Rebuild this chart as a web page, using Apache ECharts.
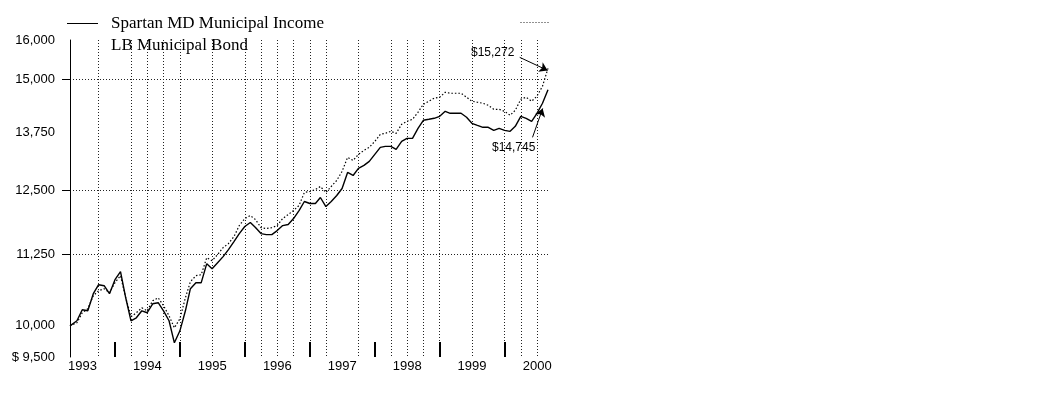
<!DOCTYPE html>
<html>
<head>
<meta charset="utf-8">
<script src="https://cdn.jsdelivr.net/npm/echarts@6/dist/echarts.min.js"></script>
<style>
  html, body { margin: 0; padding: 0; background: #fff; }
  #chart { width: 1063px; height: 394px; }
</style>
</head>
<body>
<div id="chart"></div>
<script>
// ---- Data ----
const seriesNames = ['Spartan MD Municipal Income', 'LB Municipal Bond'];
const startDate = '1993-04-22';
const endDate = '2000-08-31';

// Spartan MD Municipal Income: start value then month-ends May 1993 .. Aug 2000
const spartan1993 = [10000, 10083, 10267, 10250, 10542, 10699, 10682, 10542, 10788];
const spartan1994 = [10931, 10490, 10083, 10133, 10250, 10217, 10369, 10387, 10250, 10083, 9724, 9918];
const spartan1995 = [10250, 10629, 10735, 10735, 11076, 10985, 11094, 11205, 11335, 11485, 11638, 11773];
const spartan1996 = [11851, 11753, 11638, 11618, 11618, 11695, 11792, 11812, 11929, 12087, 12268, 12228];
const spartan1997 = [12228, 12349, 12167, 12268, 12390, 12534, 12869, 12805, 12954, 13018, 13104, 13256];
const spartan1998 = [13410, 13432, 13432, 13366, 13543, 13611, 13611, 13837, 14021, 14044, 14067, 14113];
const spartan1999 = [14230, 14183, 14183, 14183, 14090, 13951, 13905, 13860, 13860, 13791, 13837, 13791];
const spartan2000 = [13769, 13883, 14113, 14067, 13997, 14183, 14419, 14745];

// LB Municipal Bond
const lb1993 = [10000, 10050, 10217, 10284, 10507, 10594, 10629, 10559, 10735];
const lb1994 = [10859, 10490, 10150, 10217, 10301, 10250, 10421, 10472, 10335, 10166, 9967, 10116];
const lb1995 = [10472, 10752, 10859, 10877, 11186, 11131, 11242, 11372, 11447, 11580, 11792, 11929];
const lb1996 = [11988, 11909, 11753, 11734, 11753, 11792, 11929, 12008, 12087, 12188, 12452, 12472];
const lb1997 = [12513, 12575, 12452, 12575, 12700, 12890, 13191, 13126, 13256, 13344, 13410, 13543];
const lb1998 = [13701, 13723, 13769, 13723, 13929, 13997, 14044, 14207, 14395, 14467, 14539, 14563];
const lb1999 = [14683, 14659, 14659, 14659, 14563, 14467, 14443, 14419, 14372, 14277, 14277, 14230];
const lb2000 = [14137, 14254, 14515, 14563, 14467, 14587, 14829, 15272];

// Axis ticks / labels
const yLabelValues = [9500, 10000, 11250, 12500, 13750, 15000, 16000];
const yGridValues = [11250, 12500, 15000];
const yearLabelDates = ['1993-07-01', '1994-07-01', '1995-07-01', '1996-07-01', '1997-07-01', '1998-07-01', '1999-07-01', '2000-07-01'];
const yearEndDates = ['1993-12-31', '1994-12-31', '1995-12-31', '1996-12-31', '1997-12-31', '1998-12-31', '1999-12-31'];
const vGridDates = ['1993-09-30', '1994-03-31', '1994-06-30', '1994-09-30', '1994-12-31', '1995-06-30',
  '1995-12-31', '1996-03-31', '1996-06-30', '1996-09-30', '1996-12-31', '1997-03-31', '1997-09-30',
  '1998-03-31', '1998-06-30', '1998-09-30', '1998-12-31', '1999-06-30', '1999-12-31', '2000-03-31', '2000-06-30'];

// Annotations
const endLabels = ['$15,272', '$14,745'];

// ---- Build ----
function pad(n) { return (n < 10 ? '0' : '') + n; }
const ts = s => { const p = s.split('-'); return Date.UTC(+p[0], +p[1] - 1, +p[2]); };
const dates = [startDate];
for (let y = 1993, m = 5; y < 2000 || (y === 2000 && m <= 8); ) {
  const last = new Date(Date.UTC(y, m, 0)).getUTCDate();
  dates.push(y + '-' + pad(m) + '-' + pad(last));
  m++; if (m > 12) { m = 1; y++; }
}
const spartan = [].concat(spartan1993, spartan1994, spartan1995, spartan1996, spartan1997, spartan1998, spartan1999, spartan2000);
const lb = [].concat(lb1993, lb1994, lb1995, lb1996, lb1997, lb1998, lb1999, lb2000);
const toPairs = arr => arr.map((v, i) => [ts(dates[i]), v]);

const sans = 'Liberation Sans, Arial, sans-serif';
const serif = 'Liberation Serif, Times New Roman, serif';
const dotted = { color: '#222', width: 1, type: [1, 2] };

const chart = echarts.init(document.getElementById('chart'), null, { renderer: 'canvas' });
chart.setOption({
  animation: false,
  backgroundColor: '#fff',
  grid: { left: 70, right: 515, top: 40, bottom: 37, containLabel: false },
  legend: [
    {
      data: [{ name: seriesNames[0], icon: 'path://M0,0H30V1H0Z' }], left: 62, top: 10,
      itemWidth: 31, itemHeight: 1.3, itemGap: 0, selectedMode: false,
      textStyle: { fontFamily: serif, fontSize: 17, color: '#000', padding: [0, 0, 0, 8] }
    },
    {
      data: [{ name: seriesNames[1], icon: 'none' }], left: 101, top: 32, itemWidth: 0, itemGap: 0,
      selectedMode: false,
      textStyle: { fontFamily: serif, fontSize: 17, color: '#000' }
    }
  ],
  graphic: [
    { type: 'line', left: 518, top: 20, shape: { x1: 0, y1: 0, x2: 30, y2: 0 },
      style: { stroke: '#222', lineWidth: 1, lineDash: [1, 2] } }
  ],
  xAxis: [
    {
      type: 'value', min: ts(startDate), max: ts(endDate),
      axisLine: { show: false },
      axisTick: { show: true, inside: true, length: 15, customValues: yearEndDates.map(ts),
        lineStyle: { color: '#000', width: 2 } },
      axisLabel: { show: true, customValues: yearLabelDates.map(ts), margin: 3,
        formatter: v => String(new Date(v).getUTCFullYear()),
        fontFamily: sans, fontSize: 13, color: '#000', hideOverlap: false },
      splitLine: { show: false }
    },
    {
      type: 'value', min: ts(startDate), max: ts(endDate), position: 'bottom',
      axisLine: { show: false },
      axisTick: { show: false, customValues: vGridDates.map(ts) },
      axisLabel: { show: false },
      splitLine: { show: true, lineStyle: dotted }
    }
  ],
  yAxis: [
    {
      type: 'log', logBase: 10, min: 9500, max: 16000,
      axisLine: { show: true, lineStyle: { color: '#000', width: 1 } },
      axisTick: { show: true, length: 8, customValues: yGridValues, lineStyle: { color: '#000', width: 1 } },
      axisLabel: {
        customValues: yLabelValues, margin: 15, fontFamily: sans, fontSize: 13, color: '#000',
        formatter: v => (Math.round(v) === 9500 ? '$ ' : '') + Math.round(v).toLocaleString('en-US')
      },
      splitLine: { show: false }
    },
    {
      type: 'log', logBase: 10, min: 9500, max: 16000, position: 'left',
      axisLine: { show: false },
      axisTick: { show: false, customValues: yGridValues },
      axisLabel: { show: false },
      splitLine: { show: true, lineStyle: dotted }
    }
  ],
  series: [
    {
      name: seriesNames[0], type: 'line', data: toPairs(spartan), symbol: 'none',
      lineStyle: { color: '#000', width: 1.4 }, itemStyle: { color: '#000' }, z: 3,
      markLine: {
        silent: true, symbol: ['none', 'arrow'], symbolSize: 8,
        lineStyle: { color: '#000', width: 1, type: 'solid' }, label: { show: false },
        data: [[{ coord: [ts('2000-06-05'), 13633] }, { coord: [ts('2000-08-01'), 14296] }]]
      },
      markPoint: {
        silent: true, symbol: 'circle', symbolSize: 0,
        label: { show: true, position: 'inside', color: '#000', fontFamily: sans, fontSize: 12, formatter: endLabels[1] },
        data: [{ coord: [ts('2000-02-20'), 13410] }]
      }
    },
    {
      name: seriesNames[1], type: 'line', data: toPairs(lb), symbol: 'none',
      lineStyle: { color: '#000', width: 1.2, type: [1.5, 2] }, itemStyle: { color: '#000' }, z: 2,
      markLine: {
        silent: true, symbol: ['none', 'arrow'], symbolSize: 8,
        lineStyle: { color: '#000', width: 1, type: 'solid' }, label: { show: false },
        data: [[{ coord: [ts('2000-03-25'), 15550] }, { coord: [ts('2000-08-29'), 15220] }]]
      },
      markPoint: {
        silent: true, symbol: 'circle', symbolSize: 0,
        label: { show: true, position: 'inside', color: '#000', fontFamily: sans, fontSize: 12, formatter: endLabels[0] },
        data: [{ coord: [ts('1999-10-25'), 15680] }]
      }
    }
  ]
});
</script>
</body>
</html>
